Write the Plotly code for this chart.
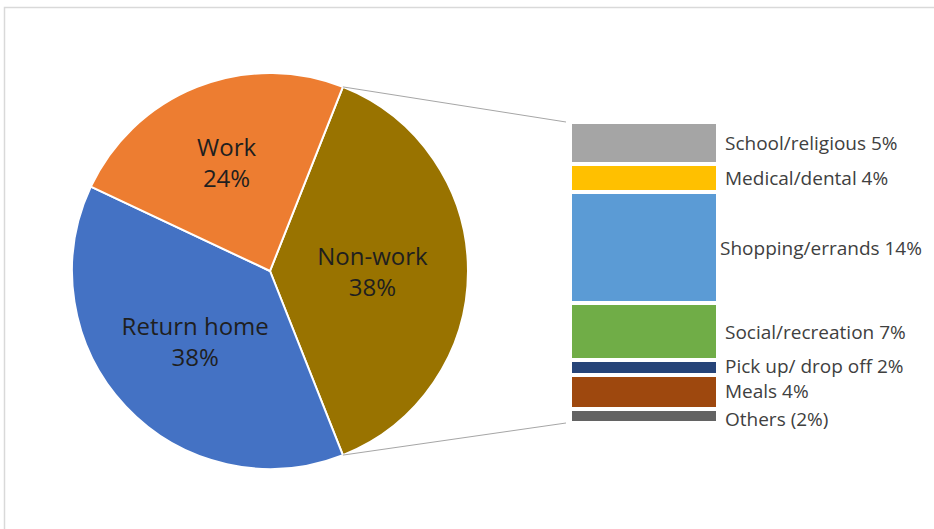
import math
import plotly.graph_objects as go

# ---- data ----
pie_labels = ["Non-work", "Return home", "Work"]
pie_values = [38, 38, 24]
pie_colors = ["#997300", "#4472C4", "#ED7D31"]

bar_labels = ["Others (2%)", "Meals 4%", "Pick up/ drop off 2%", "Social/recreation 7%",
              "Shopping/errands 14%", "Medical/dental 4%", "School/religious 5%"]
bar_values = [1.8, 4.2, 1.9, 7.2, 14.1, 3.5, 5.3]
bar_colors = ["#636363", "#9E480E", "#264478", "#70AD47", "#5B9BD5", "#FFC000", "#A5A5A5"]

W, H = 934, 529
FONT = "Open Sans"

# pie geometry (pixels)
cx, cy, r = 270, 271, 198
pie_dom_x = [(cx - r) / W, (cx + r) / W]
pie_dom_y = [1 - (cy + r) / H, 1 - (cy - r) / H]
nonwork_share = pie_values[0] / sum(pie_values)
rotation = 90 - nonwork_share * 360 / 2

# bar geometry (pixels)
bar_left, bar_right = 570, 718
bar_top, bar_bottom = 122, 423
bar_total = sum(bar_values)

fig = go.Figure()
fig.add_trace(go.Pie(
    labels=pie_labels, values=pie_values, sort=False, direction="clockwise",
    rotation=rotation, marker=dict(colors=pie_colors, line=dict(color="white", width=2)),
    texttemplate="%{label}<br>%{percent:.0%}", textposition="inside",
    insidetextorientation="horizontal",
    textfont=dict(family=FONT, size=24, color="#1f1f1f"),
    domain=dict(x=pie_dom_x, y=pie_dom_y), showlegend=False, hoverinfo="label+percent",
))

for lab, val, col in zip(bar_labels, bar_values, bar_colors):
    fig.add_trace(go.Bar(
        x=[0], y=[val], name=lab, width=1, marker=dict(color=col, line=dict(color="white", width=4)),
        showlegend=False, xaxis="x", yaxis="y", hoverinfo="name",
    ))

# small vertical nudges so the tightly packed bottom labels do not collide
label_yshift = {"Others (2%)": -3, "Meals 4%": 1, "Pick up/ drop off 2%": 2}

annotations = []
cum = 0
for lab, val in zip(bar_labels, bar_values):
    mid = cum + val / 2
    cum += val
    annotations.append(dict(
        x=0.5, y=mid, xref="x", yref="y", text=lab, showarrow=False,
        xanchor="left", yanchor="middle", xshift=0 if "Shopping" in lab else 5,
        yshift=label_yshift.get(lab, 0),
        font=dict(family=FONT, size=19, color="#404040"),
    ))

# connector lines from the Non-work slice edges to the bar
shapes = []
th = math.radians(rotation)
p_top = (cx + r * math.sin(th), cy - r * math.cos(th))
p_bot = (cx + r * math.sin(th), cy + r * math.cos(th))
for (px, py), by in [(p_top, bar_top), (p_bot, bar_bottom)]:
    shapes.append(dict(type="line", xref="paper", yref="paper",
                       x0=px / W, y0=1 - py / H, x1=(bar_left - 4) / W, y1=1 - by / H,
                       line=dict(color="#A6A6A6", width=1)))
# chart frame
shapes.append(dict(type="rect", xref="paper", yref="paper",
                   x0=4.5 / W, y0=1 - 7.5 / H, x1=1.05, y1=-0.05,
                   line=dict(color="#D9D9D9", width=1.5), fillcolor="rgba(0,0,0,0)", layer="below"))

fig.update_layout(
    width=W, height=H, margin=dict(l=0, r=0, t=0, b=0),
    paper_bgcolor="white", plot_bgcolor="white", barmode="stack", bargap=0,
    xaxis=dict(domain=[bar_left / W, bar_right / W], range=[-0.5, 0.5], visible=False, fixedrange=True),
    yaxis=dict(domain=[1 - bar_bottom / H, 1 - bar_top / H], range=[0, bar_total], visible=False, fixedrange=True),
    annotations=annotations, shapes=shapes,
)
fig.write_html("out.html")
